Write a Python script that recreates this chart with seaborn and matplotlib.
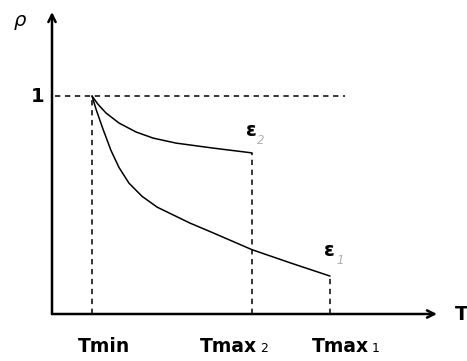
import matplotlib
matplotlib.use("Agg")
import matplotlib.pyplot as plt
import numpy as np
import pandas as pd
import seaborn as sns

# Temperature marks on the T axis
T_min = 1.0
T_max2 = 5.0
T_max1 = 6.95

# Curve epsilon_2 (ends at Tmax2)
eps2_T = [1.0, 1.15, 1.35, 1.675, 2.1, 2.525, 3.1, 4.03, 5.0]
eps2_rho = [1.0, 0.962, 0.922, 0.876, 0.835, 0.807, 0.784, 0.761, 0.739]

# Curve epsilon_1 (ends at Tmax1)
eps1_T = [1.0, 1.1, 1.275, 1.475, 1.675, 1.925, 2.25, 2.63, 3.45, 4.03, 5.0, 5.95, 6.95]
eps1_rho = [1.0, 0.94, 0.848, 0.75, 0.672, 0.60, 0.54, 0.49, 0.417, 0.372, 0.295, 0.235, 0.174]

tick_labels = ["Tmin", "Tmax", "Tmax"]
tick_subs = ["", "2", "1"]

sns.set_style("white")
plt.rcParams["font.family"] = ["DejaVu Sans"]
plt.rcParams["text.color"] = "black"

W, H = 467, 361
fig = plt.figure(figsize=(W / 100, H / 100), dpi=100)
ax = fig.add_axes([52 / W, (H - 314) / H, (437 - 52) / W, (314 - 12) / H])
ax.set_xlim(0, (437 - 52) / 40)
ax.set_ylim(0, (314 - 12) / 218)

df = pd.concat([
    pd.DataFrame({"T": eps2_T, "rho": eps2_rho, "curve": "eps2"}),
    pd.DataFrame({"T": eps1_T, "rho": eps1_rho, "curve": "eps1"}),
])
sns.lineplot(data=df, x="T", y="rho", hue="curve", sort=False,
             palette={"eps2": "black", "eps1": "black"}, linewidth=1.1,
             legend=False, ax=ax)

dash = dict(color="black", lw=1.1, linestyle=(0, (3.5, 3)))
ax.plot([0.07, 7.33], [1, 1], **dash)
ax.plot([T_min, T_min], [0, 1], **dash)
ax.plot([T_max2, T_max2], [0, eps2_rho[-1]], **dash)
ax.plot([T_max1, T_max1], [0, eps1_rho[-1]], **dash)

for s in ax.spines.values():
    s.set_visible(False)
ax.set_xticks([])
ax.set_yticks([])
ax.set_xlabel("")
ax.set_ylabel("")

# axis arrows
arrow = dict(arrowstyle="->", lw=1.8, color="black", mutation_scale=13,
             shrinkA=0, shrinkB=0)
ax.annotate("", xy=(1.0, 0), xytext=(0, 0), xycoords="axes fraction",
            arrowprops=arrow, annotation_clip=False)
ax.annotate("", xy=(0, 1.0), xytext=(0, 0), xycoords="axes fraction",
            arrowprops=arrow, annotation_clip=False)

# axis names
fig.text(455 / W, 1 - 314 / H, "T", fontsize=14, fontweight="bold",
         ha="left", va="center")
fig.text(14 / W, 1 - 20 / H, "ρ", fontsize=14, style="italic",
         ha="left", va="center")
fig.text(44 / W, 1 - 96 / H, "1", fontsize=14, fontweight="bold",
         ha="right", va="center")

# tick labels below the T axis
label_left = [78, 200, 312]
for lbl, sub, xl in zip(tick_labels, tick_subs, label_left):
    t = fig.text(xl / W, 1 - 352 / H, lbl, fontsize=13.5, fontweight="bold",
                 ha="left", va="baseline")
    if sub:
        fig.canvas.draw()
        bb = t.get_window_extent()
        fig.text((bb.x1 + 3) / W, 1 - 352 / H, sub, fontsize=9,
                 ha="left", va="baseline")

# curve labels
fig.text(251 / W, 1 - 130 / H, "ε", fontsize=14, fontweight="bold",
         ha="center", va="center")
fig.text(261 / W, 1 - 140 / H, "2", fontsize=8.5, style="italic",
         color="#b0b0b0", ha="center", va="center")
fig.text(329 / W, 1 - 251 / H, "ε", fontsize=14, fontweight="bold",
         ha="center", va="center")
fig.text(340 / W, 1 - 261 / H, "1", fontsize=8.5, style="italic",
         color="#b0b0b0", ha="center", va="center")

fig.savefig("out.png", dpi=100)
